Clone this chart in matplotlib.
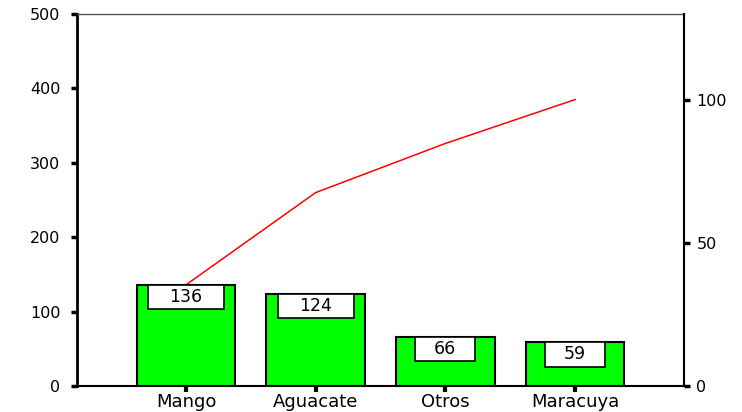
import matplotlib
matplotlib.use('Agg')

import numpy as np
import matplotlib.pyplot as plt
from matplotlib.patches import Rectangle

categories = ['Mango', 'Aguacate', 'Otros', 'Maracuya']
counts = [136, 124, 66, 59]
left_ticks = [0, 100, 200, 300, 400, 500]
right_ticks = [0, 50, 100]

# wide sans face, closest to the stretched lettering of the original
plt.rcParams['font.family'] = ['DejaVu Sans']

def main():
    total = sum(counts)
    cum = np.cumsum(counts)
    x = np.arange(len(categories))

    fig = plt.figure(figsize=(7.42, 4.12), dpi=100)
    ax = fig.add_axes([0.1038, 0.063, 0.818, 0.903])

    ax.bar(x, counts, width=0.76, color='#00ff00', edgecolor='black', linewidth=1.5, zorder=2)
    ax.plot(x, cum, color='red', linewidth=1.1, zorder=3)

    ax.set_xlim(-0.84, 3.84)
    ax.set_ylim(0, 500)
    ax.set_yticks(left_ticks)
    ax.set_xticks(x)
    ax.set_xticklabels(categories, fontsize=13)
    ax.tick_params(axis='y', length=4, width=2.5, pad=8, labelsize=11.5)
    ax.tick_params(axis='x', length=4, width=3, pad=1)

    # value labels in white boxes just under the bar top
    px_x = 129.7   # pixels per category
    px_y = 372 / 500.0
    for i, v in enumerate(counts):
        s = str(v)
        w = (16 * len(s) + 28) / px_x
        h = 24.5 / px_y
        ax.add_patch(Rectangle((i - w / 2, v - h), w, h, facecolor='white',
                               edgecolor='black', linewidth=1.2, zorder=4))
        ax.text(i, v - h / 2, s, ha='center', va='center', fontsize=12.5, zorder=5)

    ax.spines['left'].set_linewidth(2)
    ax.spines['bottom'].set_linewidth(1.5)
    ax.spines['top'].set_linewidth(1)
    ax.spines['top'].set_color('#555555')
    ax.spines['right'].set_visible(False)

    ax2 = ax.twinx()
    ax2.set_position(ax.get_position())
    ax2.set_ylim(0, 500.0 / total * 100)
    ax2.set_yticks(right_ticks)
    ax2.tick_params(axis='y', length=4, width=2.5, pad=5, labelsize=11.5)
    for side in ['left', 'top', 'bottom']:
        ax2.spines[side].set_visible(False)
    ax2.spines['right'].set_linewidth(1.5)

    fig.savefig('out.png', dpi=100)
    plt.close(fig)

if __name__ == "__main__":
    main()
